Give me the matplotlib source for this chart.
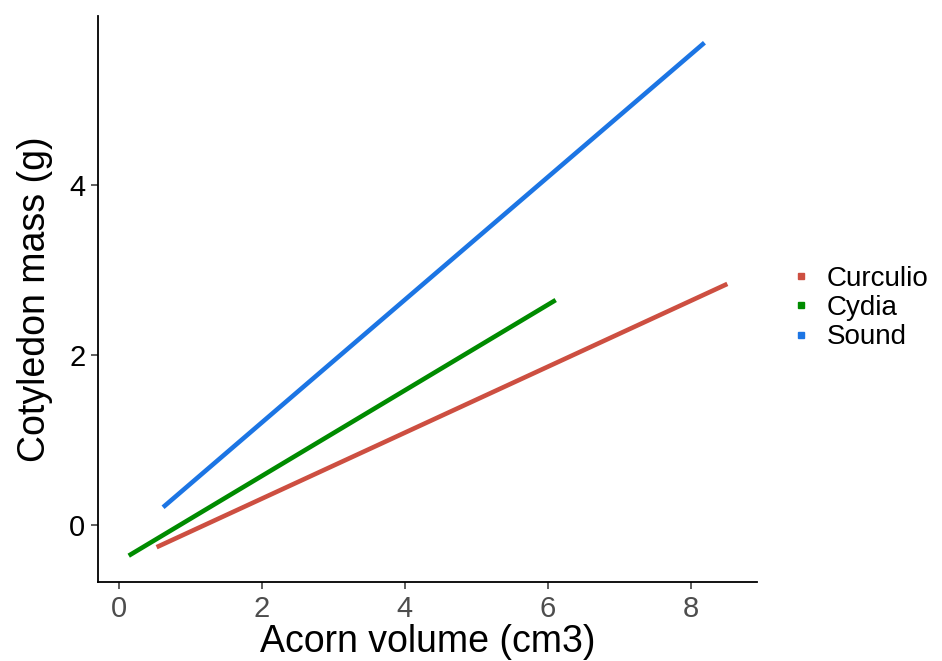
import matplotlib.pyplot as plt
from matplotlib.lines import Line2D

plt.rcParams['font.family'] = ['Liberation Sans', 'DejaVu Sans']

species = ['Curculio', 'Cydia', 'Sound']
colors = ['#CD4F41', '#008B00', '#1C75E4']
x_start = [0.53, 0.14, 0.62]
x_end = [8.51, 6.11, 8.19]
y_start = [-0.26, -0.36, 0.21]
y_end = [2.84, 2.65, 5.68]

fig = plt.figure(figsize=(9.42, 6.61), dpi=100)
ax = fig.add_axes([0.104, 0.1195, 0.700, 0.857])

for sp, c, x0, x1, y0, y1 in zip(species, colors, x_start, x_end, y_start, y_end):
    ax.plot([x0, x1], [y0, y1], color=c, lw=3.3, solid_capstyle='butt', label=sp)

ax.set_xlim(-0.29, 8.93)
ax.set_ylim(-0.67, 6.0)
ax.set_xticks([0, 2, 4, 6, 8])
ax.set_yticks([0, 2, 4])
for s in ['top', 'right']:
    ax.spines[s].set_visible(False)
for s in ['left', 'bottom']:
    ax.spines[s].set_linewidth(1.3)
ax.tick_params(axis='both', length=5, width=1.1, color='#333333', labelsize=21, pad=4)
ax.tick_params(axis='x', labelcolor='#4D4D4D')
ax.tick_params(axis='y', labelcolor='black')

ax.set_xlabel('Acorn volume (cm3)', fontsize=27, labelpad=1)
ax.set_ylabel('Cotyledon mass (g)', fontsize=27, labelpad=12)

handles = [Line2D([], [], marker='s', linestyle='none', color=c, markersize=4) for c in colors]
fig.legend(handles, species, loc='center left', bbox_to_anchor=(0.830, 0.534),
           frameon=False, fontsize=20, handlelength=0.6, handletextpad=0.6,
           labelspacing=0.12, borderaxespad=0)

fig.savefig('out.png', dpi=100)
